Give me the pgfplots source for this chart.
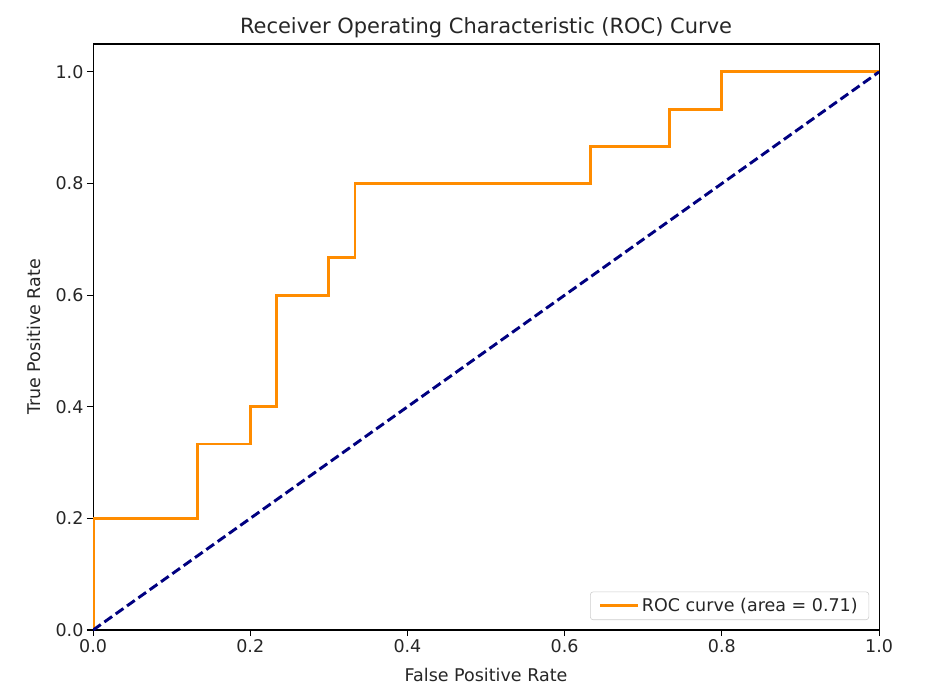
\documentclass[border=0pt]{standalone}
\usepackage{fontspec}
\setmainfont{DejaVu Sans}
\usepackage{pgfplots}
\pgfplotsset{compat=1.18}
\definecolor{darkorange}{RGB}{255,140,0}
\definecolor{navyblue}{RGB}{0,0,128}
\definecolor{txt}{RGB}{38,38,38}
\begin{document}
\begin{tikzpicture}
\begin{axis}[
  name=roc,
  scale only axis,
  width=565.9pt, height=421.9pt,
  xmin=0, xmax=1, ymin=0, ymax=1.05,
  xtick={0,0.2,0.4,0.6,0.8,1.0},
  ytick={0,0.2,0.4,0.6,0.8,1.0},
  /pgf/number format/.cd, fixed, fixed zerofill, precision=1, assume math mode=true,
  /pgfplots/.cd,
  tick label style={font=\fontsize{12.6}{15}\selectfont, text=txt},
  label style={font=\fontsize{12.6}{15}\selectfont, text=txt},
  xticklabel style={yshift=1pt},
  yticklabel style={xshift=1pt},
  xlabel style={yshift=-4pt},
  ylabel style={yshift=4pt},
  tick align=outside, tick pos=left, major tick length=4.4pt,
  every tick/.style={black, line width=0.8pt},
  axis line style={line width=0.8pt},
  title={Receiver Operating Characteristic (ROC) Curve},
  title style={font=\fontsize{15.1}{18}\selectfont, text=txt, yshift=-5pt},
  xlabel={False Positive Rate},
  ylabel={True Positive Rate},
  legend style={at={(1,0)}, anchor=south east, xshift=-7.2pt, yshift=7.2pt,
    draw=black!20, rounded corners=2pt, inner xsep=6pt, inner ysep=2.5pt,
    font=\fontsize{12.6}{15}\selectfont, text=txt},
  legend cell align=left,
  legend image code/.code={\draw[#1] (0pt,0pt) -- (27pt,0pt);},
]
\addplot[darkorange, line width=2.1pt, line join=miter] coordinates {
  (0,0) (0,0.2) (0.1333,0.2) (0.1333,0.3333) (0.2,0.3333) (0.2,0.4)
  (0.2333,0.4) (0.2333,0.6) (0.3,0.6) (0.3,0.6667) (0.3333,0.6667)
  (0.3333,0.8) (0.6333,0.8) (0.6333,0.8667) (0.7333,0.8667)
  (0.7333,0.9333) (0.8,0.9333) (0.8,1.0) (1,1)
};
\addlegendentry{ROC curve (area = 0.71)}
\addplot[navyblue, line width=2.1pt, dash pattern=on 6.8pt off 3.2pt, forget plot] coordinates {
  (0,0) (1,1)
};
\end{axis}
\pgfresetboundingbox
\path ([xshift=-67pt,yshift=-47.5pt]roc.south west) rectangle ([xshift=41pt,yshift=31.7pt]roc.north east);
\end{tikzpicture}
\end{document}
